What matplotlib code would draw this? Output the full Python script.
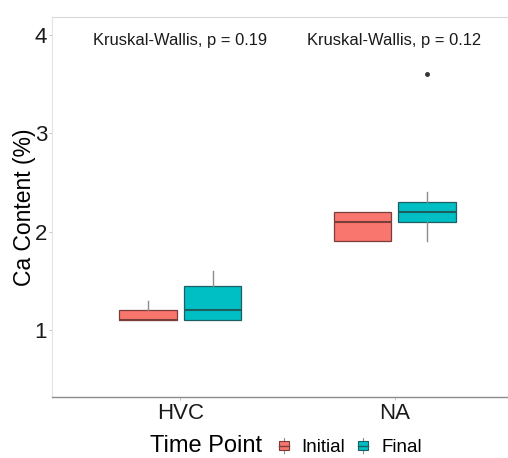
import matplotlib
matplotlib.use("Agg")
import matplotlib.pyplot as plt
from matplotlib.patches import Patch, Rectangle
from matplotlib.lines import Line2D
from matplotlib.legend_handler import HandlerBase

plt.rcParams['font.family'] = ['Liberation Sans', 'DejaVu Sans']

# data
sites = ["HVC", "NA"]
groups = ["Initial", "Final"]
colors = ["#F8766D", "#00BFC4"]
edge_colors = ["#7a3e3a", "#1d5f61"]

# five-number summaries per site, per group: (low whisker, q1, median, q3, high whisker)
hvc_initial = [1.1, 1.1, 1.1, 1.2, 1.3]
hvc_final = [1.1, 1.1, 1.2, 1.45, 1.6]
na_initial = [1.9, 1.9, 2.1, 2.2, 2.2]
na_final = [1.9, 2.1, 2.2, 2.3, 2.4]
hvc_fliers = [[], []]
na_fliers = [[], [3.6]]

p_values = [0.19, 0.12]

summaries = [[hvc_initial, hvc_final], [na_initial, na_final]]
fliers = [hvc_fliers, na_fliers]


class BoxKey(HandlerBase):
    # small boxplot glyph like ggplot's legend key
    def create_artists(self, legend, orig_handle, xd, yd, w, h, fontsize, trans):
        fc = orig_handle.get_facecolor()
        ec = orig_handle.get_edgecolor()
        bw = w * 0.75
        x0 = xd * -1 + (w - bw) / 2
        y0 = -yd + h * 0.22
        bh = h * 0.56
        whisk = Line2D([x0 + bw / 2] * 2, [-yd, -yd + h], color="#8c8c8c", lw=0.8, transform=trans)
        box = Rectangle((x0, y0), bw, bh, facecolor=fc, edgecolor=ec, lw=0.8, transform=trans)
        med = Line2D([x0, x0 + bw], [y0 + bh / 2] * 2, color=ec, lw=1.0, transform=trans)
        return [whisk, box, med]


fig = plt.figure(figsize=(5.08, 4.58), dpi=100)
ax = fig.add_axes([0.1024, 0.1332, 0.8976, 0.8297])

offset = 0.15
width = 0.27
for i, site in enumerate(sites):
    for j, grp in enumerate(groups):
        lo, q1, med, q3, hi = summaries[i][j]
        st = dict(whislo=lo, q1=q1, med=med, q3=q3, whishi=hi,
                  fliers=fliers[i][j], label=grp)
        pos = i + 1 + (-offset if j == 0 else offset)
        ax.bxp([st], positions=[pos], widths=width, patch_artist=True,
               showcaps=False,
               boxprops=dict(facecolor=colors[j], edgecolor=edge_colors[j], linewidth=0.9),
               medianprops=dict(color=edge_colors[j], linewidth=1.5),
               whiskerprops=dict(color="#8c8c8c", linewidth=1.0),
               flierprops=dict(marker="o", markersize=2.5, markerfacecolor="#333333",
                               markeredgecolor="#333333"))

for i, p in enumerate(p_values):
    ax.text(i + 1, 3.94, "Kruskal-Wallis, p = %.2f" % p, ha="center", va="center",
            fontsize=11.9, color="#1a1a1a")

ax.set_xlim(0.4, 2.53)
ax.set_ylim(0.32, 4.18)
ax.set_xticks([1, 2])
ax.set_xticklabels(sites, fontsize=16)
ax.set_yticks([1, 2, 3, 4])
ax.set_yticklabels(["1", "2", "3", "4"], fontsize=16)
ax.set_ylabel("Ca Content (%)", fontsize=16.5)
ax.yaxis.set_label_coords(-0.035, 0.5)

ax.tick_params(axis="both", length=2.5, color="#bdbdbd", width=0.6, labelcolor="#1a1a1a")
ax.tick_params(axis="x", pad=2)
ax.tick_params(axis="y", pad=1)
ax.spines["right"].set_visible(False)
ax.spines["top"].set_color("#d9d9d9")
ax.spines["left"].set_color("#e3e3e3")
ax.spines["bottom"].set_color("#8c8c8c")
ax.spines["bottom"].set_linewidth(1.0)

fig.text(0.295, 0.026, "Time Point", fontsize=17, va="center", ha="left")
handles = [Patch(facecolor=colors[k], edgecolor=edge_colors[k]) for k in range(2)]
fig.legend(handles, groups, loc="center left", bbox_to_anchor=(0.527, 0.024), ncol=2,
           frameon=False, fontsize=13.5, handlelength=0.7, handleheight=0.9,
           handletextpad=0.6, columnspacing=0.62, borderpad=0,
           handler_map={Patch: BoxKey()})

fig.savefig("out.png", dpi=100)
